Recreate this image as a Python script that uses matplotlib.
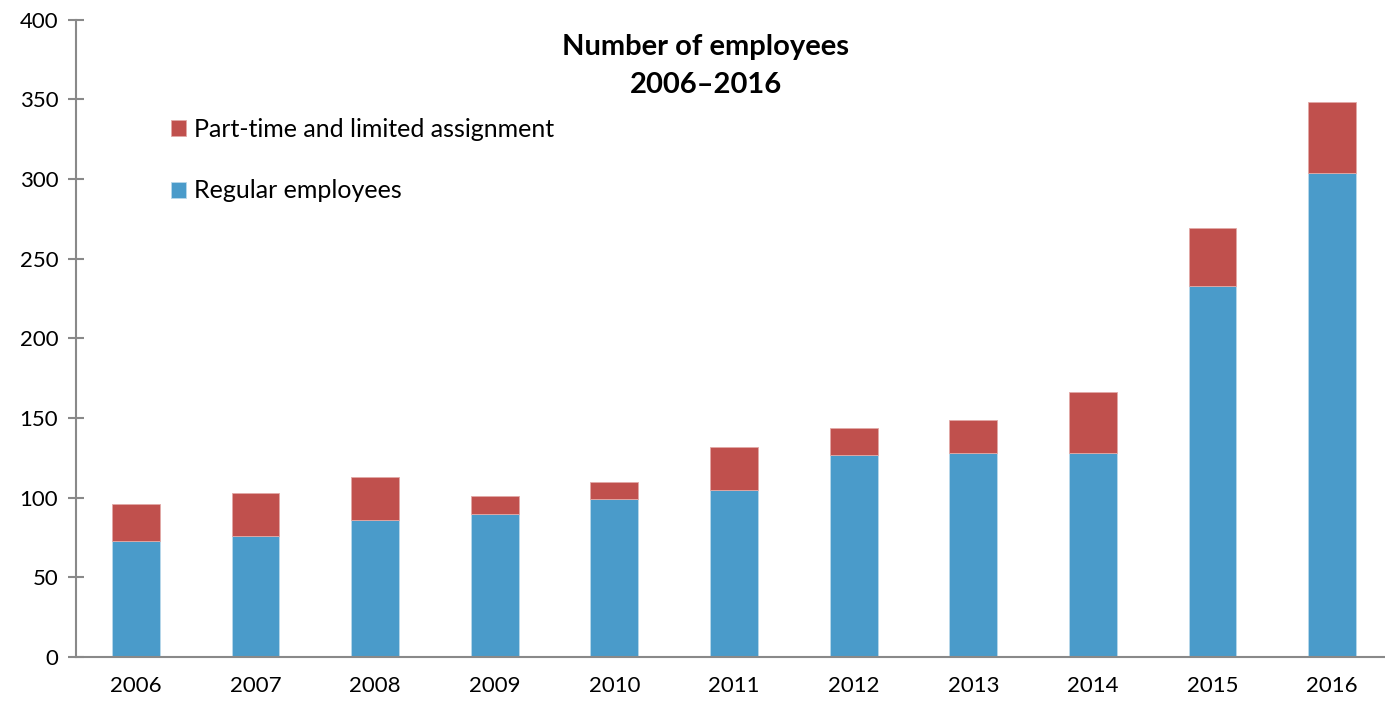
import numpy as np
import matplotlib.pyplot as plt

years = ["2006", "2007", "2008", "2009", "2010", "2011",
         "2012", "2013", "2014", "2015", "2016"]
regular = [73, 76, 86, 90, 99, 105, 127, 128, 128, 233, 304]
part_time = [23, 27, 27, 11, 11, 27, 17, 21, 38, 36, 44]

blue = "#4A9BCA"
red = "#C0504D"
axis_grey = "#898989"

plt.rcParams["font.family"] = ["Lato", "DejaVu Sans"]

W, H = 1385, 702
fig = plt.figure(figsize=(W / 100, H / 100), dpi=100)
# axes span from the y axis at x=76px to past the right edge
ax = fig.add_axes([76 / W, 1 - 657 / H, (1392 - 76) / W, (657 - 19.5) / H])

x = np.arange(len(years))
b1 = ax.bar(x, regular, width=0.4, color=blue, edgecolor="#b9d8ea",
            linewidth=0.6, label="Regular employees")
b2 = ax.bar(x, part_time, width=0.4, bottom=regular, color=red,
            edgecolor="#e2a9a7", linewidth=0.6,
            label="Part-time and limited assignment")

ax.set_xlim(-0.5, 10.5)
ax.set_ylim(0, 400)
ax.set_yticks(np.arange(0, 401, 50))
ax.set_xticks(x)
ax.set_xticklabels(years)

for side in ["top", "right"]:
  ax.spines[side].set_visible(False)
for side in ["left", "bottom"]:
  ax.spines[side].set_color(axis_grey)
  ax.spines[side].set_linewidth(1.5)

ax.tick_params(axis="y", direction="inout", length=11.5, width=1.5,
               color=axis_grey, labelsize=16, pad=7)
ax.tick_params(axis="x", length=0, labelsize=16, pad=14)

ax.legend([b2, b1], ["Part-time and limited assignment", "Regular employees"],
          loc="center left", bbox_to_anchor=(171 / W, 1 - 160 / H),
          bbox_transform=fig.transFigure, frameon=False, fontsize=18,
          handlelength=0.6, handleheight=0.6, handletextpad=0.3,
          labelspacing=1.55, borderpad=0, borderaxespad=0)

fig.text(706 / W, 1 - 66 / H, "Number of employees\n2006\u20132016",
         ha="center", va="center", fontsize=21, fontweight="bold",
         linespacing=1.55)

fig.savefig("out.png", dpi=100)
